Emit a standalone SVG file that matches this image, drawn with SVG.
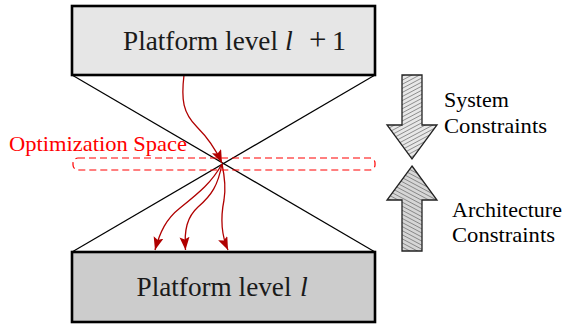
<svg xmlns="http://www.w3.org/2000/svg" width="564" height="327" viewBox="0 0 564 327">
<style>
.box{stroke:#000;stroke-width:2.6}
.lbl{font-family:"Liberation Serif","Times New Roman",serif;font-size:28px;fill:#1a1a1a}
.side{font-family:"Liberation Serif","Times New Roman",serif;font-size:22px;fill:#000}
.thin{stroke:#000;stroke-width:1.2;fill:none}
.red{stroke:#b00000;stroke-width:1.3;fill:none;marker-end:url(#ah)}
.big{stroke:#222;stroke-width:1.3}
</style>
<defs>
<marker id="ah" markerUnits="userSpaceOnUse" markerWidth="14" markerHeight="11" refX="13" refY="5" orient="auto">
<path d="M0,0 L13,5 L0,10 L2.5,5 Z" fill="#b00000"/>
</marker>
<pattern id="hDown" patternUnits="userSpaceOnUse" width="6" height="3.6" patternTransform="rotate(-28)">
<rect width="6" height="3.6" fill="#e8e8e8"/>
<line x1="0" y1="0.4" x2="6" y2="0.4" stroke="#666" stroke-width="0.7"/>
</pattern>
<pattern id="hUp" patternUnits="userSpaceOnUse" width="6" height="3.6" patternTransform="rotate(28)">
<rect width="6" height="3.6" fill="#d6d6d6"/>
<line x1="0" y1="0.4" x2="6" y2="0.4" stroke="#666" stroke-width="0.7"/>
</pattern>
</defs>

<g id="connectors">
<line class="thin" x1="72" y1="75" x2="375" y2="252"/>
<line class="thin" x1="375" y1="75" x2="72" y2="252"/>
<path class="red" d="M184,75 C181,100 183,113 197,127 C210,140 216,150 222,163"/>
<path class="red" d="M222,164 C212,182 200,192 180,208 C166,219 160,232 155,250"/>
<path class="red" d="M222,164 C218,185 212,195 198,207 C187,217 184,230 185.5,250"/>
<path class="red" d="M222,164 C225,178 226,188 224,200 C221,215 220,232 228,250"/>
</g>

<g id="optimization-space">
<rect x="73" y="158" width="302" height="12" rx="5" ry="5" fill="none" stroke="#ff0000" stroke-width="1.2" stroke-dasharray="7 4"/>
<text x="9" y="151" font-family="Liberation Serif, Times New Roman, serif" font-size="22" fill="#ff0000" textLength="178" lengthAdjust="spacingAndGlyphs">Optimization Space</text>
</g>

<g id="platform-top">
<rect class="box" x="72" y="6" width="303" height="69" fill="#e6e6e6"/>
<text class="lbl" y="50"><tspan x="123" textLength="155" lengthAdjust="spacingAndGlyphs">Platform level</tspan><tspan x="285" font-style="italic">l</tspan><tspan x="309" font-size="31">+</tspan><tspan x="332">1</tspan></text>
</g>

<g id="platform-bottom">
<rect class="box" x="72" y="252" width="303" height="70" fill="#cccccc"/>
<text class="lbl" y="296"><tspan x="136.5" textLength="155" lengthAdjust="spacingAndGlyphs">Platform level</tspan><tspan x="300" font-style="italic">l</tspan></text>
</g>

<g id="system-constraints">
<path class="big" d="M402,75 L422,75 L422,125 L437,125 L412,159 L387,125 L402,125 Z" fill="url(#hDown)"/>
<text class="side" x="444" y="107">System</text>
<text class="side" x="444" y="133" textLength="103" lengthAdjust="spacingAndGlyphs">Constraints</text>
</g>

<g id="architecture-constraints">
<path class="big" d="M412,166 L437,200 L422,200 L422,251 L402,251 L402,200 L387,200 Z" fill="url(#hUp)"/>
<text class="side" x="452" y="217">Architecture</text>
<text class="side" x="452" y="242" textLength="103" lengthAdjust="spacingAndGlyphs">Constraints</text>
</g>
</svg>
